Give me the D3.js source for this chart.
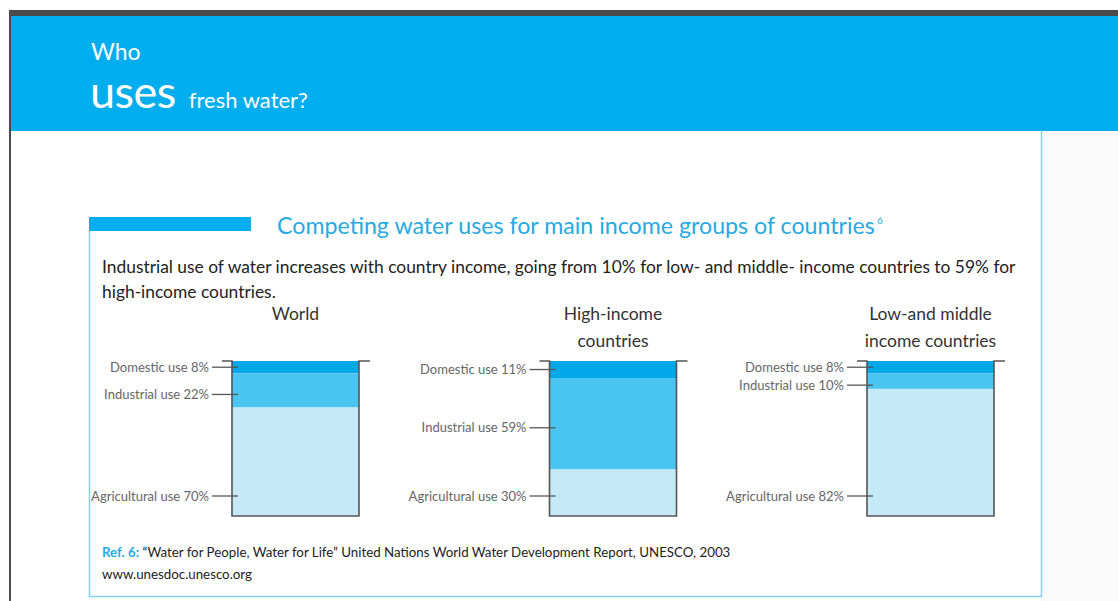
<!DOCTYPE html>
<html lang="en">
<head>
<meta charset="UTF-8">
<title>Who uses fresh water?</title>
<script src="https://d3js.org/d3.v7.min.js"></script>
<style>
  body { margin: 0; background: #fff; }
  text { font-family: Lato, "Open Sans", sans-serif; }
</style>
</head>
<body>
<script>
// data
var groups = ["World", "High-income countries", "Low-and middle income countries"];
var groupTitles = [["World"], ["High-income", "countries"], ["Low-and middle", "income countries"]];
var useKeys = ["domestic", "industrial", "agricultural"];
var useNames = ["Domestic use", "Industrial use", "Agricultural use"];
var domestic = [8, 11, 8];
var industrial = [22, 59, 10];
var agricultural = [70, 30, 82];
var useColors = ["#00a8ea", "#4ac4f1", "#c6e9f8"];

var width = 1118, height = 601;

var svg = d3.select("body").append("svg")
    .attr("width", width)
    .attr("height", height);

// page frame
svg.append("rect").attr("x", 9).attr("y", 10).attr("width", width - 9).attr("height", 6).attr("fill", "#4b4b4b");
svg.append("rect").attr("x", 9).attr("y", 10).attr("width", 2).attr("height", height - 10).attr("fill", "#4b4b4b");
svg.append("rect").attr("x", 11).attr("y", 16).attr("width", width - 11).attr("height", 115).attr("fill", "#00adef");
svg.append("rect").attr("x", 1042).attr("y", 131).attr("width", width - 1042).attr("height", height - 131).attr("fill", "#fafafa");

// header
svg.append("text").attr("x", 91).attr("y", 60).attr("fill", "#fff").attr("font-size", 23).text("Who");
var h2 = svg.append("text").attr("x", 90).attr("y", 108).attr("fill", "#fff");
h2.append("tspan").attr("font-size", 45).attr("letter-spacing", -0.5).text("uses");
h2.append("tspan").attr("dx", 13).attr("font-size", 22).text("fresh water?");

// box
var box = svg.append("g").attr("fill", "none").attr("stroke", "#86d0ee").attr("stroke-width", 1.5);
box.append("path").attr("d", "M89.5,231V596.5H1041.5V131");
svg.append("rect").attr("x", 89).attr("y", 217).attr("width", 162).attr("height", 14).attr("fill", "#00adef");

var title = svg.append("text").attr("x", 277).attr("y", 234).attr("fill", "#27a9e1").attr("font-size", 23.2);
title.append("tspan").text("Competing water uses for main income groups of countries");
title.append("tspan").attr("font-size", 10).attr("dy", -10).attr("dx", 2).text("6");

var sub = svg.append("text").attr("fill", "#222").attr("font-size", 17.4);
sub.append("tspan").attr("x", 102).attr("y", 273)
    .text("Industrial use of water increases with country income, going from 10% for low- and middle- income countries to 59% for");
sub.append("tspan").attr("x", 102).attr("y", 298).text("high-income countries.");

// reference
var ref = svg.append("text").attr("x", 102).attr("y", 557).attr("font-size", 13.3).attr("fill", "#222");
ref.append("tspan").attr("fill", "#27a9e1").attr("font-weight", "bold").text("Ref. 6:");
ref.append("tspan").text(" \u201cWater for People, Water for Life\u201d United Nations World Water Development Report, UNESCO, 2003");
svg.append("text").attr("x", 102).attr("y", 579).attr("font-size", 13.3).attr("fill", "#222").text("www.unesdoc.unesco.org");

// charts
var table = groups.map(function (g, i) {
    return { group: g, domestic: domestic[i], industrial: industrial[i], agricultural: agricultural[i] };
});
var series = d3.stack().keys(useKeys)(table);

var x = d3.scaleBand().domain(groups).range([232, 994]).paddingInner(0.6).paddingOuter(0);
var y = d3.scaleLinear().domain([0, 100]).range([361, 516]);

var layers = svg.append("g").selectAll("g")
    .data(series)
    .enter().append("g")
    .attr("fill", function (d, i) { return useColors[i]; });

layers.selectAll("rect")
    .data(function (d) { return d; })
    .enter().append("rect")
    .attr("x", function (d) { return x(d.data.group); })
    .attr("y", function (d) { return y(d[0]); })
    .attr("width", x.bandwidth())
    .attr("height", function (d) { return y(d[1]) - y(d[0]); });

// beaker outlines
svg.append("g").selectAll("path")
    .data(groups)
    .enter().append("path")
    .attr("fill", "none")
    .attr("stroke", "#555")
    .attr("stroke-width", 1.6)
    .attr("d", function (g) {
        var x0 = x(g), x1 = x(g) + x.bandwidth();
        return "M" + (x0 - 10) + "," + y(0) + "H" + x0 + "V" + y(100) + "H" + x1 + "V" + y(0) + "H" + (x1 + 11);
    });

// group titles
groups.forEach(function (g, i) {
    var t = svg.append("text")
        .attr("text-anchor", "middle")
        .attr("font-size", 17.5)
        .attr("fill", "#333");
    groupTitles[i].forEach(function (line, j) {
        t.append("tspan").attr("x", x(g) + x.bandwidth() / 2).attr("y", 320 + j * 27).text(line);
    });
});

// labels with leader lines
series.forEach(function (s, k) {
    s.forEach(function (d, i) {
        var x0 = x(d.data.group);
        var ly = k === 2 ? y(100) - 20 : (y(d[0]) + y(d[1])) / 2 + (k === 1 ? 4 : 0);
        svg.append("line")
            .attr("x1", x0 - 20).attr("x2", x0 + 6)
            .attr("y1", ly).attr("y2", ly)
            .attr("stroke", "#555").attr("stroke-width", 1.3);
        svg.append("text")
            .attr("x", x0 - 23).attr("y", ly)
            .attr("dy", "0.35em")
            .attr("text-anchor", "end")
            .attr("font-size", 13)
            .attr("fill", "#666")
            .text(useNames[k] + " " + d.data[useKeys[k]] + "%");
    });
});
</script>
</body>
</html>
